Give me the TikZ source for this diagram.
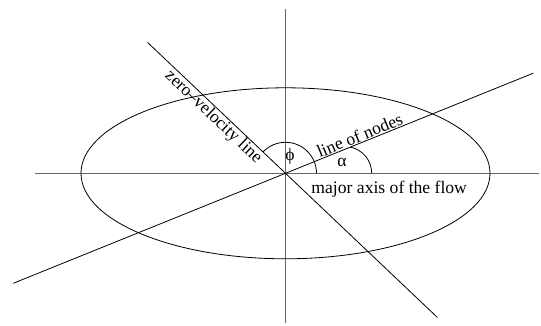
\documentclass[tikz,border=0pt]{standalone}
\usepackage{fontspec}
\setmainfont{Liberation Serif}
\begin{document}
\begin{tikzpicture}[x=1pt, y=1pt,
    axis/.style = {draw=black!60, line width=1.3pt},
    thin line/.style = {draw=black, line width=0.8pt},
    label/.style = {font=\fontsize{17.6}{20}\selectfont, inner sep=1pt}]
    \useasboundingbox (-285.5,-152.7) rectangle (255.5,173.3);
    \coordinate (O) at (0,0);

    % axes of the flow
    \draw[axis] (-250.5,0) -- (253.5,0);
    \draw[axis] (0,164) -- (0,-149.7);
    \draw[thin line] (O) ellipse [x radius=204.5, y radius=85.5];

    % the two lines through the centre
    \coordinate (zv1) at (136.5:190);
    \coordinate (zv2) at (-43.5:209.4);
    \coordinate (ln1) at (202:293.6);
    \coordinate (ln2) at (22:267.4);
    \draw[thin line] (zv1) -- (zv2);
    \draw[thin line] (ln1) -- (ln2);

    % angles
    \draw[thin line] (31,0) arc [start angle=0, end angle=136.5, radius=31];
    \coordinate (a0) at (64.8,26.2);
    \draw[thin line] (a0) arc [start angle=78.6, end angle=0, radius=26.7];

    % labels
    \node[label, anchor=north, rotate=-43.5] (zvl) at (136.5:91) {zero–velocity line};
    \node[label, anchor=south, rotate=22] (lnl) at (22:83) {line of nodes};
    \node[label, anchor=base] (maj) at (103.7,-20) {major axis of the flow};
    \node[label] (phi) at (4.5,17.3) {\symbol{"03D5}};
    \node[label] (alpha) at (56.5,11) {α};
\end{tikzpicture}
\end{document}
